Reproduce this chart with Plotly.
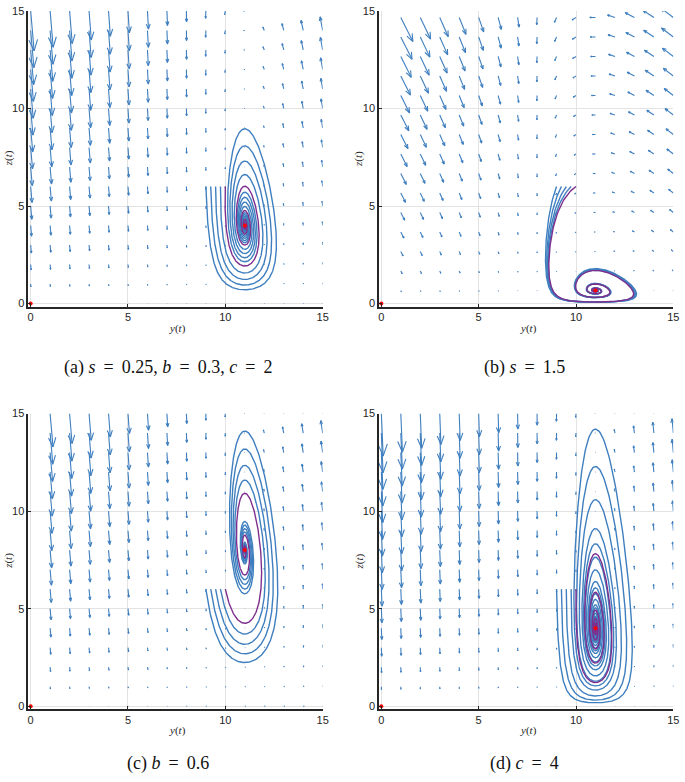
import numpy as np
import plotly.graph_objects as go

# ---- values ----
EQ = "\u2009=\u2009"
captions = [f"(a) <i>s</i> {EQ} 0.25, <i>b</i> {EQ} 0.3, <i>c</i> {EQ} 2",
            f"(b) <i>s</i> {EQ} 1.5",
            f"(c) <i>b</i> {EQ} 0.6",
            f"(d) <i>c</i> {EQ} 4"]
s_vals = [0.25, 1.5, 0.25, 0.25]
b_vals = [0.3, 0.3, 0.6, 0.3]
c_vals = [2.0, 2.0, 2.0, 4.0]
y_star = 11.0                      # interior equilibrium y (red dot)
y_null = 7.7                       # y-nullcline asymptote read from the (b) field
z_gain = 1.0                       # z-rate factor read from arrow slopes
y0_list = [9.0, 9.25, 9.5, 9.75, 10.0]   # starting y values (z = 6)
z0_start = 6.0
first_col = [0, 1, 1, 0]           # first quiver column shown per panel
arrow_scale = [0.0062, 0.0042, 0.0057, 0.0033]
tick_vals = [0, 5, 10, 15]

BLUE = "#3f7fbf"
PURPLE = "#7e2f8e"


def field(y, z, s, b, c):
    dy = b * y - s * z * (y - y_null)
    dz = z_gain * c * z * (y - y_star)
    return dy, dz


def integrate(y0, z0, s, b, c, T=24.0, dt=0.002):
    y = np.array(y0, dtype=float)
    z = np.full_like(y, z0)
    n = int(T / dt)
    Ys, Zs = [y.copy()], [z.copy()]
    for i in range(n):
        k1 = field(y, z, s, b, c)
        k2 = field(y + dt / 2 * k1[0], z + dt / 2 * k1[1], s, b, c)
        k3 = field(y + dt / 2 * k2[0], z + dt / 2 * k2[1], s, b, c)
        k4 = field(y + dt * k3[0], z + dt * k3[1], s, b, c)
        y = y + dt / 6 * (k1[0] + 2 * k2[0] + 2 * k3[0] + k4[0])
        z = z + dt / 6 * (k1[1] + 2 * k2[1] + 2 * k3[1] + k4[1])
        if i % 3 == 0:
            Ys.append(y.copy())
            Zs.append(z.copy())
    return np.array(Ys), np.array(Zs)


def quiver_lines(Y, Z, U, V, scale):
    xs, ys = [], []
    for y, z, u, v in zip(Y.ravel(), Z.ravel(), U.ravel(), V.ravel()):
        du, dv = u * scale, v * scale
        L = float(np.hypot(du, dv))
        if L < 1e-6:
            continue
        tx, ty = y + du, z + dv
        ux, uy = du / L, dv / L
        hl, hw = 0.28 * L, 0.11 * L
        bx1, by1 = tx - hl * ux - hw * uy, ty - hl * uy + hw * ux
        bx2, by2 = tx - hl * ux + hw * uy, ty - hl * uy - hw * ux
        xs += [y, tx, None, bx1, tx, bx2, None]
        ys += [z, ty, None, by1, ty, by2, None]
    return xs, ys


W, H = 685, 782
xdom_px = [(27.6, 325.0), (381.9, 679.3), (27.6, 325.0), (381.9, 679.3)]
ydom_px = [(5.0, 304.0), (5.0, 304.0), (412.3, 711.3), (412.3, 711.3)]

fig = go.Figure()
annotations = []
for p in range(4):
    s, b, c = s_vals[p], b_vals[p], c_vals[p]
    z_star = b * y_star / (s * (y_star - y_null))
    xa = "x" if p == 0 else f"x{p+1}"
    ya = "y" if p == 0 else f"y{p+1}"

    # quiver grid: integer y columns, z rows aligned with the equilibrium
    cols = np.arange(first_col[p], 16, 1.0)
    off = z_star - np.floor(z_star)
    rows = np.arange(off, 15.0001, 1.0)
    GY, GZ = np.meshgrid(cols, rows)
    U, V = field(GY, GZ, s, b, c)
    qx, qy = quiver_lines(GY, GZ, U, V, arrow_scale[p])
    fig.add_trace(go.Scatter(x=qx, y=qy, mode="lines", xaxis=xa, yaxis=ya,
                             line=dict(color=BLUE, width=1.1), hoverinfo="skip",
                             showlegend=False))

    Ys, Zs = integrate(y0_list, z0_start, s, b, c)
    for k in range(len(y0_list)):
        col = PURPLE if k == len(y0_list) - 1 else BLUE
        fig.add_trace(go.Scatter(x=Ys[:, k], y=Zs[:, k], mode="lines",
                                 xaxis=xa, yaxis=ya,
                                 line=dict(color=col, width=1.4),
                                 showlegend=False, hoverinfo="skip"))
    fig.add_trace(go.Scatter(x=[0, y_star], y=[0, z_star], mode="markers",
                             xaxis=xa, yaxis=ya,
                             marker=dict(color="#ff0000", size=4),
                             showlegend=False, hoverinfo="skip"))

    x0, x1 = xdom_px[p]
    t0, t1 = ydom_px[p]
    axkw = dict(showline=True, linecolor="#262626", linewidth=1.5,
                showgrid=True, gridcolor="#e3e3e3", gridwidth=1,
                zeroline=False, tickvals=tick_vals, ticks="inside",
                ticklen=3, tickcolor="#262626",
                tickfont=dict(family="Liberation Sans, Arial", size=11, color="#262626"),
                mirror=False)
    fig.layout[("xaxis" if p == 0 else f"xaxis{p+1}")] = dict(
        axkw, domain=[x0 / W, x1 / W], range=[-0.12, 15.0], anchor=ya)
    fig.layout[("yaxis" if p == 0 else f"yaxis{p+1}")] = dict(
        axkw, domain=[1 - t1 / H, 1 - t0 / H], range=[-0.15, 15.0], anchor=xa)

    cx = (x0 + x1) / 2
    annotations.append(dict(text="<i>y</i>(<i>t</i>)", x=(cx + 2) / W, y=1 - (t1 + 22) / H,
                            xref="paper", yref="paper", showarrow=False,
                            xanchor="center", yanchor="middle",
                            font=dict(family="Liberation Serif", size=11, color="#262626")))
    annotations.append(dict(text="<i>z</i>(<i>t</i>)", x=(x0 - 20) / W, y=1 - (t0 + t1) / 2 / H,
                            xref="paper", yref="paper", showarrow=False, textangle=-90,
                            xanchor="center", yanchor="middle",
                            font=dict(family="Liberation Serif", size=11, color="#262626")))
    cap_y = 366 if p < 2 else 766
    cap_x = 169 if p % 2 == 0 else 529
    annotations.append(dict(text=captions[p], x=cap_x / W, y=1 - cap_y / H,
                            xref="paper", yref="paper", showarrow=False,
                            xanchor="center", yanchor="middle",
                            font=dict(family="Liberation Serif", size=18, color="#111111")))

fig.update_layout(width=W, height=H, margin=dict(l=0, r=0, t=0, b=0),
                  paper_bgcolor="white", plot_bgcolor="white",
                  annotations=annotations)
fig.write_html("out.html", config={"displayModeBar": False},
               post_script="document.body.style.margin='0';document.body.style.overflow='hidden';")
